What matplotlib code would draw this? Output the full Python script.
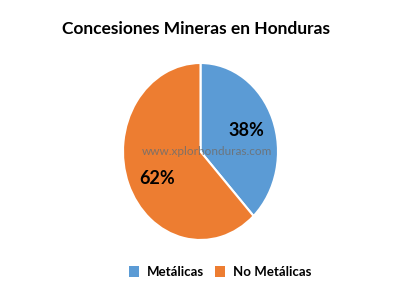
import matplotlib.pyplot as plt
from matplotlib.patches import Patch

plt.rcParams['font.family'] = ['Lato', 'DejaVu Sans']

labels = ["Metálicas", "No Metálicas"]
values = [38, 62]
colors = ["#5B9BD5", "#ED7D31"]
title = "Concesiones Mineras en Honduras"
watermark = "www.xplorhonduras.com"

fig = plt.figure(figsize=(4, 3), dpi=100)
fig.patch.set_facecolor("white")

# pie axes stretched like the reference (slightly taller than wide)
ax = fig.add_axes([0.3075, 0.2, 0.3875, 0.59])
wedges, texts, autotexts = ax.pie(
    values, colors=colors, startangle=90, counterclock=False,
    autopct="%d%%", pctdistance=0.64,
    wedgeprops=dict(edgecolor="white", linewidth=1.5),
    textprops=dict(fontsize=13, fontweight="bold", color="black"))
ax.set_aspect("auto")
ax.set_xlim(-1, 1)
ax.set_ylim(-1, 1)
autotexts[1].set_position((-0.56, -0.3))

ax.text(0.08, 0.0, watermark, ha="center", va="center", fontsize=8.5,
        color="#6e6e6e", alpha=0.85, zorder=10)

fig.text(0.49, 0.905, title, ha="center", va="center",
         fontsize=12.5, fontweight="bold")

handles = [Patch(facecolor=c, edgecolor="none") for c in colors]
fig.legend(handles, labels, loc="center", bbox_to_anchor=(0.55, 0.093),
           ncol=2, frameon=False, handlelength=0.8,
           handleheight=0.8, handletextpad=0.6, columnspacing=0.8,
           prop=dict(weight="bold", size=9.5))

fig.savefig("out.png", dpi=100)
